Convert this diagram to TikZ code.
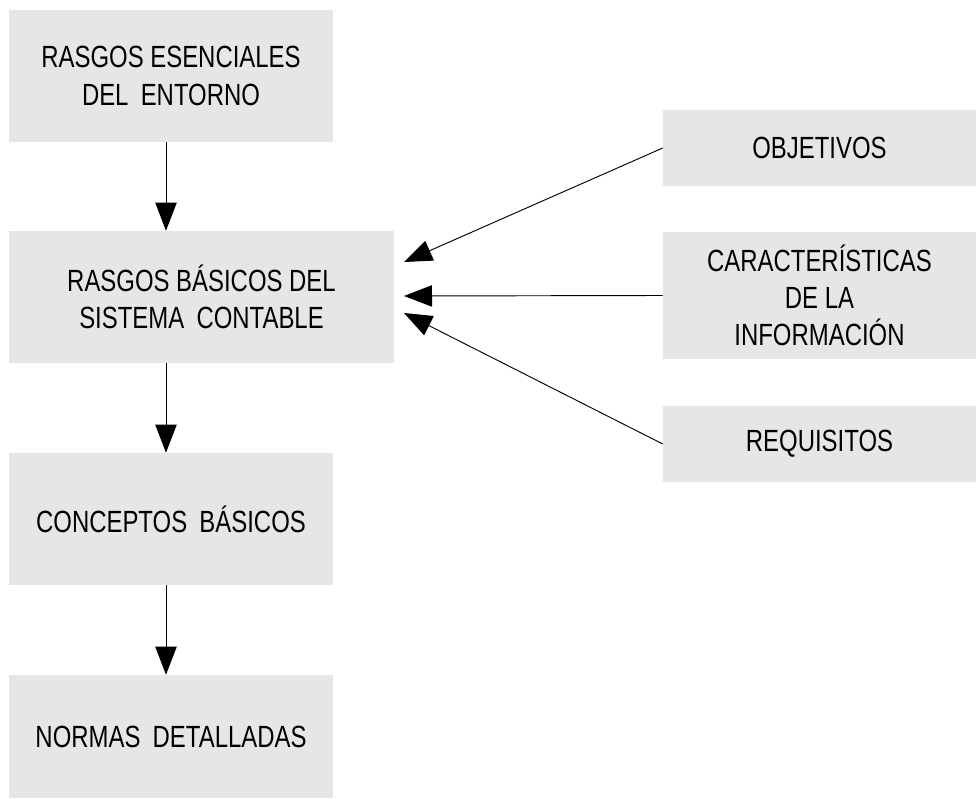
\documentclass[tikz,border=0pt]{standalone}
\usepackage{fontspec}
\setmainfont{Liberation Sans}[FakeStretch=0.78]
\usetikzlibrary{arrows.meta}
\definecolor{boxgray}{RGB}{230,230,230}

\begin{document}
\begin{tikzpicture}[x=0.75pt,y=-0.75pt,
  caja/.style={fill=boxgray,align=center,inner sep=0pt,font=\fontsize{23}{28}\selectfont},
  flecha/.style={-{Triangle[length=21pt,width=16pt]},line width=0.7pt}]
\useasboundingbox (0,0) rectangle (976,799);
%\draw[gray!40] (0,0) rectangle (976,799);
\node[caja,minimum width=243pt,minimum height=99pt] (ent) at (171,76) {RASGOS ESENCIALES\\DEL\hspace{.4em}ENTORNO};
\node[caja,minimum width=288.75pt,minimum height=99pt] (sis) at (201.5,297) {RASGOS BÁSICOS DEL\\SISTEMA\hspace{.4em}CONTABLE};
\node[caja,minimum width=243pt,minimum height=99pt] (con) at (171,519) {CONCEPTOS\hspace{.4em}BÁSICOS};
\node[caja,minimum width=243pt,minimum height=92.25pt] (nor) at (171,736.5) {NORMAS\hspace{.4em}DETALLADAS};
\node[caja,minimum width=234.75pt,minimum height=57pt] (obj) at (819.5,148) {OBJETIVOS};
\node[caja,minimum width=234.75pt,minimum height=95.25pt] (car) at (819.5,295.5) {CARACTERÍSTICAS\\DE LA\\INFORMACIÓN};
\node[caja,minimum width=234.75pt,minimum height=57pt] (req) at (819.5,444) {REQUISITOS};
\coordinate (ax) at (166,0);
\coordinate (t1) at (404,262);
\coordinate (t2) at (404,296);
\coordinate (t3) at (404,313);
\foreach \a/\b in {ent/sis,sis/con,con/nor}
  \draw[flecha] (\a.south -| ax) -- (\b.north -| ax);
\foreach \a/\b in {obj/t1,car/t2,req/t3}
  \draw[flecha] (\a.west) -- (\b);
\end{tikzpicture}
\end{document}
